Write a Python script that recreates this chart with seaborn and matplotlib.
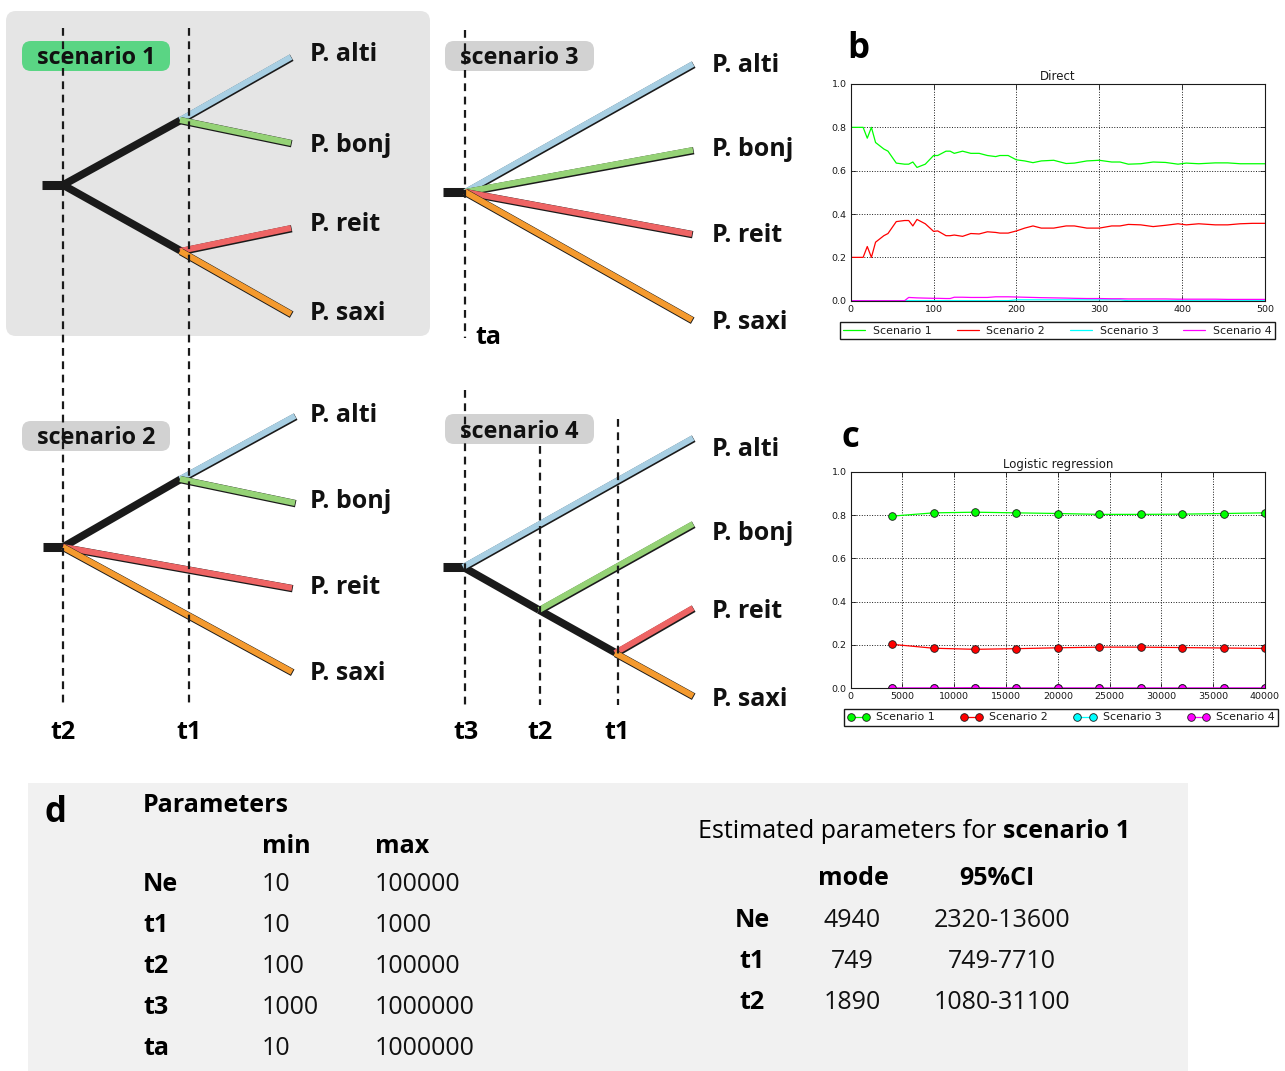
import pandas as pd
import matplotlib
matplotlib.use('Agg')
import matplotlib.pyplot as plt
import matplotlib.patheffects as pe
from matplotlib.patches import FancyBboxPatch
from matplotlib.lines import Line2D
import seaborn as sns

sns.set_theme(style='white')
plt.rcParams['font.family'] = ['Open Sans', 'DejaVu Sans']
plt.rcParams['text.color'] = 'black'

# Daten
scenarios = ['Scenario 1', 'Scenario 2', 'Scenario 3', 'Scenario 4']
line_colors = ['#00ff00', '#ff0000', '#00ffff', '#ff00ff']

# b: Direct
direct_n = [0, 15, 20, 25, 30, 40, 45, 55, 65, 70, 75, 80, 90, 100, 105, 115, 120, 125, 135,
            145, 155, 165, 175, 180, 190, 200, 210, 220, 230, 245, 260, 270, 285, 300, 315,
            325, 335, 350, 365, 380, 395, 405, 420, 440, 455, 470, 485, 500]
direct_s1 = [0.80, 0.80, 0.75, 0.80, 0.73, 0.70, 0.69, 0.635, 0.63, 0.63, 0.64, 0.615, 0.63,
             0.67, 0.67, 0.69, 0.69, 0.68, 0.69, 0.68, 0.68, 0.67, 0.665, 0.67, 0.67, 0.65,
             0.645, 0.637, 0.645, 0.648, 0.633, 0.635, 0.645, 0.648, 0.64, 0.64, 0.63, 0.632,
             0.64, 0.638, 0.63, 0.635, 0.632, 0.636, 0.636, 0.632, 0.632, 0.632]
direct_s2 = [0.20, 0.20, 0.25, 0.20, 0.27, 0.30, 0.31, 0.365, 0.37, 0.37, 0.345, 0.375, 0.355,
             0.32, 0.322, 0.30, 0.30, 0.303, 0.297, 0.31, 0.308, 0.318, 0.315, 0.312, 0.312,
             0.322, 0.335, 0.345, 0.335, 0.335, 0.345, 0.345, 0.335, 0.335, 0.345, 0.345,
             0.352, 0.35, 0.342, 0.348, 0.355, 0.35, 0.355, 0.35, 0.35, 0.355, 0.357, 0.357]
direct_s3 = [0, 0, 0, 0, 0, 0, 0, 0, 0, 0, 0, 0, 0, 0, 0, 0, 0, 0, 0, 0, 0, 0, 0, 0, 0,
             0.004, 0.004, 0.004, 0.004, 0.004, 0.004, 0.004, 0.004, 0.004, 0.004, 0.004,
             0, 0, 0, 0, 0, 0, 0, 0, 0, 0, 0, 0]
direct_s4 = [0, 0, 0, 0, 0, 0, 0, 0, 0, 0.015, 0.014, 0.013, 0.012, 0.011, 0.011, 0.010, 0.010,
             0.016, 0.016, 0.015, 0.015, 0.015, 0.018, 0.018, 0.018, 0.017, 0.016, 0.015,
             0.014, 0.013, 0.012, 0.011, 0.010, 0.010, 0.009, 0.009, 0.008, 0.008, 0.008,
             0.008, 0.007, 0.007, 0.007, 0.007, 0.006, 0.006, 0.006, 0.006]

# c: Logistic regression
logreg_n = [4000, 8000, 12000, 16000, 20000, 24000, 28000, 32000, 36000, 40000]
logreg_s1 = [0.795, 0.81, 0.813, 0.81, 0.807, 0.803, 0.803, 0.804, 0.807, 0.81]
logreg_s2 = [0.203, 0.185, 0.18, 0.183, 0.187, 0.19, 0.19, 0.188, 0.186, 0.184]
logreg_s3 = [0, 0, 0, 0, 0, 0, 0, 0, 0, 0]
logreg_s4 = [0.002, 0.002, 0.003, 0.002, 0.002, 0.002, 0.002, 0.002, 0.002, 0.002]

# d: Tabellen
params = ['Ne', 't1', 't2', 't3', 'ta']
param_min = ['10', '10', '100', '1000', '10']
param_max = ['100000', '1000', '100000', '1000000', '1000000']
est_params = ['Ne', 't1', 't2']
est_mode = ['4940', '749', '1890']
est_ci = ['2320-13600', '749-7710', '1080-31100']

taxa = ['P. alti', 'P. bonj', 'P. reit', 'P. saxi']
taxa_colors = ['#a8cfe3', '#95d276', '#ee6464', '#f49a2f']

fig = plt.figure(figsize=(12.85, 10.71), dpi=100)
canvas = fig.add_axes([0, 0, 1, 1])
canvas.set_xlim(0, 1285)
canvas.set_ylim(1071, 0)
canvas.axis('off')

FS = 18


def branch(x0, y0, x1, y1, color, lw=4.3):
    canvas.plot([x0, x1], [y0, y1], color=color, lw=lw, solid_capstyle='butt', zorder=3,
                path_effects=[pe.Stroke(linewidth=lw + 1.0, foreground='k', offset=(0.5, -0.5)),
                              pe.Normal()])


def trunk(x0, y0, x1, y1, lw=5.5):
    canvas.plot([x0, x1], [y0, y1], color='k', lw=lw, solid_capstyle='butt', zorder=2)


def stub(x0, x1, y):
    canvas.plot([x0, x1], [y, y], color='k', lw=6.5, solid_capstyle='butt', zorder=2)


def dashed(x, y0, y1):
    canvas.plot([x, x], [y0, y1], color='k', lw=1.6, ls=(0, (3.5, 2.5)), zorder=5)


def label_box(x0, y0, x1, y1, text, color):
    canvas.add_patch(FancyBboxPatch((x0, y0), x1 - x0, y1 - y0,
                                    boxstyle='round,pad=0,rounding_size=9',
                                    fc=color, ec='none', zorder=4))
    canvas.text((x0 + x1) / 2, (y0 + y1) / 2 + 8.5, text, ha='center', va='baseline',
                fontsize=16.8, fontweight='bold', color='#111111', zorder=6)


def taxa_labels(x, ys):
    for name, y in zip(taxa, ys):
        canvas.text(x, y, name, fontsize=FS, fontweight='bold', va='baseline', color='#111111')


# Hintergrund Szenario 1 und Tabelle
canvas.add_patch(FancyBboxPatch((6, 11), 424, 325, boxstyle='round,pad=0,rounding_size=10',
                                fc='#e5e5e5', ec='none', zorder=0))
canvas.add_patch(FancyBboxPatch((28, 783), 1160, 300, boxstyle='square,pad=0',
                                fc='#f1f1f1', ec='none', zorder=0))

# Szenario 1
stub(42, 63, 185)
trunk(63, 185, 181, 120)
trunk(63, 185, 181, 251)
branch(180, 120, 291, 57, taxa_colors[0])
branch(180, 120, 291, 143, taxa_colors[1])
branch(180, 251, 291, 228, taxa_colors[2])
branch(180, 251, 291, 314, taxa_colors[3])
taxa_labels(310, [61, 152, 231, 320])
label_box(22, 41, 170, 71, 'scenario 1', '#5ad584')

# Szenario 2
stub(43, 65, 547)
trunk(63, 547, 181, 479)
branch(180, 479, 295, 416, taxa_colors[0])
branch(180, 479, 295, 503, taxa_colors[1])
branch(63, 547, 292, 588, taxa_colors[2])
branch(63, 547, 292, 672, taxa_colors[3])
taxa_labels(310, [422, 508, 594, 680])
label_box(22, 421, 170, 451, 'scenario 2', '#d2d2d2')

dashed(63, 28, 705)
dashed(189, 28, 705)
for x, t in [(63, 't2'), (189, 't1')]:
    canvas.text(x, 739, t, ha='center', va='baseline', fontsize=FS, fontweight='bold')

# Szenario 3
stub(443, 465, 192)
branch(465, 192, 693, 64, taxa_colors[0])
branch(465, 192, 693, 150, taxa_colors[1])
branch(465, 192, 692, 234, taxa_colors[2])
branch(465, 192, 692, 320, taxa_colors[3])
taxa_labels(712, [72, 156, 242, 329])
label_box(445, 41, 594, 71, 'scenario 3', '#d2d2d2')
dashed(465, 30, 338)
canvas.text(475, 344, 'ta', ha='left', va='baseline', fontsize=FS, fontweight='bold')

# Szenario 4
stub(443, 464, 567)
trunk(463, 567, 539, 610)
trunk(539, 610, 616, 653)
branch(463, 567, 693, 438, taxa_colors[0])
branch(539, 610, 693, 524, taxa_colors[1])
branch(615, 653, 693, 608, taxa_colors[2])
branch(615, 653, 693, 696, taxa_colors[3])
taxa_labels(712, [456, 540, 618, 706])
label_box(445, 414, 594, 444, 'scenario 4', '#d2d2d2')
dashed(465, 390, 705)
dashed(540, 446, 705)
dashed(618, 419, 705)
for x, t in [(466, 't3'), (540, 't2'), (617, 't1')]:
    canvas.text(x, 739, t, ha='center', va='baseline', fontsize=FS, fontweight='bold')

# Buchstaben der Teilabbildungen
canvas.text(858, 58, 'b', ha='center', va='baseline', fontsize=25, fontweight='bold')
canvas.text(850, 447, 'c', ha='center', va='baseline', fontsize=25, fontweight='bold')
canvas.text(56, 822, 'd', ha='center', va='baseline', fontsize=25, fontweight='bold')

# Tabelle Parameter
canvas.text(143, 812, 'Parameters', fontsize=FS, fontweight='bold', va='baseline')
canvas.text(262, 853, 'min', fontsize=FS, fontweight='bold', va='baseline')
canvas.text(375, 853, 'max', fontsize=FS, fontweight='bold', va='baseline')
for i, (p, lo, hi) in enumerate(zip(params, param_min, param_max)):
    y = 891 + i * 41
    canvas.text(143, y, p, fontsize=FS, fontweight='bold', va='baseline')
    canvas.text(262, y, lo, fontsize=FS, va='baseline', color='#111111')
    canvas.text(375, y, hi, fontsize=FS, va='baseline', color='#111111')

# Tabelle Schaetzwerte
t1 = canvas.text(698, 838, 'Estimated parameters for ', fontsize=FS, va='baseline')
fig.canvas.draw()
bb = t1.get_window_extent()
canvas.text(698 + bb.width, 838, 'scenario 1', fontsize=FS, fontweight='bold', va='baseline')
canvas.text(853, 885, 'mode', fontsize=FS, fontweight='bold', va='baseline', ha='center')
canvas.text(997, 885, '95%CI', fontsize=FS, fontweight='bold', va='baseline', ha='center')
for i, (p, m, ci) in enumerate(zip(est_params, est_mode, est_ci)):
    y = 927 + i * 41
    canvas.text(752, y, p, fontsize=FS, fontweight='bold', va='baseline', ha='center')
    canvas.text(852, y, m, fontsize=FS, va='baseline', ha='center', color='#111111')
    canvas.text(1002, y, ci, fontsize=FS, va='baseline', ha='center', color='#111111')

# b und c als Liniendiagramme
direct_df = pd.concat([
    pd.DataFrame({'n': direct_n, 'p': vals, 'scenario': s})
    for s, vals in zip(scenarios, [direct_s1, direct_s2, direct_s3, direct_s4])])
logreg_df = pd.concat([
    pd.DataFrame({'n': logreg_n, 'p': vals, 'scenario': s})
    for s, vals in zip(scenarios, [logreg_s1, logreg_s2, logreg_s3, logreg_s4])])

W, H = 1285, 1071
ax_b = fig.add_axes([850.7 / W, 1 - 300.7 / H, 414.3 / W, 216.7 / H])
ax_c = fig.add_axes([850.7 / W, 1 - 688.3 / H, 414.3 / W, 216.6 / H])

palette = dict(zip(scenarios, line_colors))
sns.lineplot(data=direct_df, x='n', y='p', hue='scenario', palette=palette, lw=0.9,
             ax=ax_b, legend=False)
sns.lineplot(data=logreg_df, x='n', y='p', hue='scenario', palette=palette, lw=0.9,
             marker='o', markersize=5.5, markeredgecolor='k', markeredgewidth=0.6,
             ax=ax_c, legend=False)

for ax, title, xmax, xticks in [(ax_b, 'Direct', 500, range(0, 501, 100)),
                                (ax_c, 'Logistic regression', 40000, range(0, 40001, 5000))]:
    ax.set_xlim(0, xmax)
    ax.set_ylim(0, 1)
    ax.set_xticks(list(xticks))
    ax.set_yticks([0, 0.2, 0.4, 0.6, 0.8, 1.0])
    ax.set_yticklabels(['0.0', '0.2', '0.4', '0.6', '0.8', '1.0'])
    ax.set_xlabel('')
    ax.set_ylabel('')
    ax.set_facecolor('white')
    ax.grid(True, ls=':', color='k', lw=0.7)
    for sp in ax.spines.values():
        sp.set_visible(True)
        sp.set_color('k')
        sp.set_linewidth(0.8)
    ax.tick_params(direction='in', length=3.5, width=0.6, labelsize=6.8, top=True, right=True,
                   bottom=True, left=True, pad=3, colors='k')
    for lab in ax.get_xticklabels() + ax.get_yticklabels():
        lab.set_family('DejaVu Sans')
        lab.set_color('#1a1a1a')
    ax.set_title(title, fontsize=8.5, family='DejaVu Sans', pad=3, color='#1a1a1a')

handles_b = [Line2D([], [], color=c, lw=0.9) for c in line_colors]
handles_c = [Line2D([], [], color=c, lw=0.9, marker='o', markersize=5.5, markeredgecolor='k',
                    markeredgewidth=0.6) for c in line_colors]
leg_b = fig.legend(handles_b, scenarios, loc='center', mode='expand', ncol=4,
                   bbox_to_anchor=(840 / W, 1 - 339.5 / H, 435 / W, 18 / H),
                   prop={'family': 'DejaVu Sans', 'size': 7.9}, frameon=True, fancybox=False,
                   edgecolor='k', borderpad=0.3, handlelength=2.0, handletextpad=0.7,
                   borderaxespad=0)
leg_c = fig.legend(handles_c, scenarios, loc='center', mode='expand', ncol=4, numpoints=2,
                   bbox_to_anchor=(844 / W, 1 - 727.5 / H, 434 / W, 20 / H),
                   prop={'family': 'DejaVu Sans', 'size': 7.9}, frameon=True, fancybox=False,
                   edgecolor='k', borderpad=0.3, handlelength=2.0, handletextpad=0.6,
                   borderaxespad=0)
for leg in (leg_b, leg_c):
    leg.get_frame().set_linewidth(1.0)
    leg.get_frame().set_alpha(1)
    for txt in leg.get_texts():
        txt.set_color('#1a1a1a')

fig.savefig('out.png', dpi=100, facecolor='white')
